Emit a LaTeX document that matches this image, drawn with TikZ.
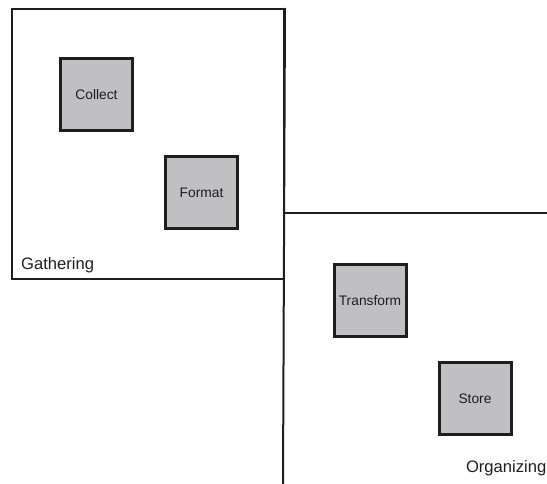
\documentclass[tikz,border=0pt]{standalone}
\usepackage{fontspec}
\setmainfont{Liberation Sans}
\definecolor{boxgray}{RGB}{192,192,194}
\definecolor{ink}{RGB}{30,30,30}
\begin{document}
\begin{tikzpicture}[x=1pt,y=-1pt,
  region/.style={draw=ink, line width=2pt},
  stage/.style={draw=ink, line width=3pt, fill=boxgray, minimum width=72pt,
    minimum height=72pt, inner sep=0pt, text=ink,
    font=\fontsize{13.8}{16}\selectfont},
  phase/.style={text=ink, inner sep=0pt, font=\fontsize{16.6}{19}\selectfont}]
\useasboundingbox (0,0) rectangle (547,484);

% Gathering phase: closed frame
\node[region, minimum width=272pt, minimum height=270pt, inner sep=0pt,
  anchor=north west] (gathering) at (11,8) {};
\node[phase, anchor=west] (gatherlabel) at (21,265) {Gathering};

% Organizing phase: open frame sharing the vertical edge
\coordinate (orgright) at (547,213);
\coordinate (orgcorner) at (283,213);
\coordinate (orgbottom) at (283,484);
\draw[region] (gathering.north east) -- (orgbottom);
\draw[region] (orgright) -- (orgcorner);
\node[phase, anchor=east] (orglabel) at (546.5,468) {Organizing};

% Stages
\node[stage] (collect) at (96.5,94.5) {Collect};
\node[stage] (format) at (201.5,192.5) {Format};
\node[stage] (transform) at (370,300.5) {Transform};
\node[stage] (store) at (475,398.5) {Store};
\end{tikzpicture}
\end{document}
